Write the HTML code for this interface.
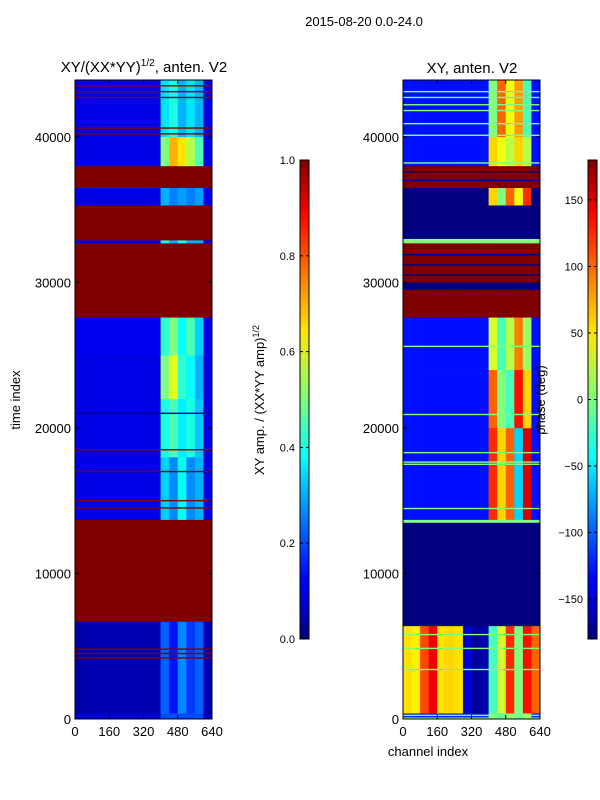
<!DOCTYPE html>
<html><head><meta charset="utf-8"><style>
body{margin:0;background:#fff;}
svg{display:block;font-family:"Liberation Sans",sans-serif;}
</style></head><body>
<svg id="fig" width="600" height="800" viewBox="0 0 600 800">
<defs>
<linearGradient id="jet" x1="0" y1="1" x2="0" y2="0">
<stop offset="0" stop-color="#00007f"/><stop offset="0.11" stop-color="#0000ff"/><stop offset="0.125" stop-color="#0000ff"/>
<stop offset="0.34" stop-color="#00d4ff"/><stop offset="0.375" stop-color="#00ffff" /><stop offset="0.5" stop-color="#7dff7a"/>
<stop offset="0.64" stop-color="#ffe600"/><stop offset="0.66" stop-color="#ffd400"/><stop offset="0.89" stop-color="#ff0000"/><stop offset="1" stop-color="#7f0000"/>
</linearGradient>
</defs>
<text x="364" y="26" font-size="13" text-anchor="middle">2015-08-20 0.0-24.0</text>
<g id="left"></g>
<g id="right"></g>
<text x="144" y="72" font-size="15" text-anchor="middle">XY/(XX*YY)<tspan font-size="10" dy="-6">1/2</tspan><tspan dy="6">, anten. V2</tspan></text>
<text x="472" y="73" font-size="15" text-anchor="middle">XY, anten. V2</text>
<text transform="translate(20,400) rotate(-90)" font-size="13" text-anchor="middle">time index</text>
<text x="428" y="756" font-size="13" text-anchor="middle">channel index</text>
<text transform="translate(264,400) rotate(-90)" font-size="13" text-anchor="middle">XY amp. / (XX*YY amp)<tspan font-size="9" dy="-5">1/2</tspan></text>
<text transform="translate(545,400) rotate(-90)" font-size="13" text-anchor="middle">phase (deg)</text>
<g id="cb1"></g>
<g id="cb2"></g>
</svg>
<script>
// ---------- data ----------
var tMax = 43900;
var xTicks = [0,160,320,480,640];
var yTicks = [0,10000,20000,30000,40000];
var ampTicks = [0.0,0.2,0.4,0.6,0.8,1.0];
var phaseTicks = [-150,-100,-50,0,50,100,150];
// channel bins: 16 bins of 40 channels
var ampRows = [
 [0,400,[0.08,0.08,0.08,0.08,0.08,0.08,0.08,0.08,0.08,0.08,0.2,0.2,0.2,0.2,0.2,0.05]],
 [400,6700,[0.04,0.04,0.05,0.05,0.05,0.05,0.05,0.05,0.05,0.05,0.22,0.14,0.26,0.18,0.22,0.05]],
 [6700,13700,[1,1,1,1,1,1,1,1,1,1,1,1,1,1,1,1]],
 [13700,18000,[0.1,0.1,0.1,0.1,0.1,0.1,0.1,0.1,0.1,0.1,0.33,0.26,0.38,0.26,0.3,0.1]],
 [18000,22000,[0.1,0.1,0.1,0.1,0.1,0.1,0.1,0.1,0.1,0.1,0.4,0.45,0.36,0.4,0.32,0.1]],
 [22000,25000,[0.1,0.1,0.1,0.1,0.1,0.1,0.1,0.1,0.1,0.1,0.5,0.6,0.42,0.38,0.3,0.1]],
 [25000,27600,[0.11,0.11,0.11,0.11,0.11,0.11,0.11,0.11,0.11,0.11,0.42,0.5,0.38,0.45,0.33,0.1]],
 [27600,32700,[1,1,1,1,1,1,1,1,1,1,1,1,1,1,1,1]],
 [32700,32900,[0.1,0.1,0.1,0.1,0.1,0.1,0.1,0.1,0.1,0.1,0.4,0.3,0.4,0.3,0.3,0.1]],
 [32900,35300,[1,1,1,1,1,1,1,1,1,1,1,1,1,1,1,1]],
 [35300,36500,[0.1,0.1,0.1,0.1,0.1,0.1,0.1,0.1,0.1,0.1,0.3,0.25,0.28,0.25,0.28,0.1]],
 [36500,38000,[1,1,1,1,1,1,1,1,1,1,1,1,1,1,1,1]],
 [38000,40000,[0.1,0.1,0.1,0.1,0.1,0.1,0.1,0.1,0.1,0.1,0.5,0.7,0.65,0.55,0.45,0.1]],
 [40000,43900,[0.1,0.1,0.1,0.1,0.1,0.1,0.1,0.1,0.1,0.1,0.35,0.4,0.3,0.35,0.3,0.1]]
];
var ampLineTimes = [4200,4500,4800,14500,15000,17000,18500,21000,40200,40600,42700,43100,43500];
var ampLineValues = [1,1,1,1,1,1,1,0.02,1,1,1,1,1];
var phaseRows = [
 [0,400,[-130,-130,-130,-130,-130,-130,-130,-130,-130,-130,0,-20,10,-10,20,-130]],
 [400,6400,[55,50,110,140,55,60,55,-150,-170,-165,-20,30,120,0,130,100]],
 [6400,13500,[-180,-180,-180,-180,-180,-180,-180,-180,-180,-180,-180,-180,-180,-180,-180,-180]],
 [13500,13700,[0,0,0,0,0,0,0,0,0,0,0,0,0,0,0,0]],
 [13700,20000,[-130,-130,-130,-130,-130,-130,-130,-130,-130,-130,120,60,100,-60,150,-130]],
 [20000,24000,[-130,-130,-130,-130,-130,-130,-130,-130,-130,-130,100,0,-20,130,60,-130]],
 [24000,27600,[-130,-130,-130,-130,-130,-130,-130,-130,-130,-130,30,-20,20,90,10,-130]],
 [27600,29500,[180,180,180,180,180,180,180,180,180,180,180,180,180,180,180,180]],
 [29500,30000,[-180,-180,-180,-180,-180,-180,-180,-180,-180,-180,-180,-180,-180,-180,-180,-180]],
 [30000,32700,[180,180,180,180,180,180,180,180,180,180,180,180,180,180,180,180]],
 [32700,33000,[0,0,0,0,0,0,0,0,0,0,0,0,0,0,0,0]],
 [33000,35300,[-180,-180,-180,-180,-180,-180,-180,-180,-180,-180,-180,-180,-180,-180,-180,-180]],
 [35300,36500,[-180,-180,-180,-180,-180,-180,-180,-180,-180,-180,60,0,100,40,120,-180]],
 [36500,38000,[180,180,180,180,180,180,180,180,180,180,180,180,180,180,180,180]],
 [38000,40000,[-130,-130,-130,-130,-130,-130,-130,-130,-130,-130,60,40,20,60,20,-130]],
 [40000,43900,[-130,-130,-130,-130,-130,-130,-130,-130,-130,-130,0,100,40,80,-20,-130]]
];
var phaseLineTimes = [60,250,3400,4850,5800,14460,17500,17650,18300,20920,25600,30500,31200,31900,37000,37600,38200,40100,40900,41800,42200,42700,43100];
var phaseLineValues = [0,0,0,0,0,0,0,0,0,0,0,-180,-180,-180,-180,-180,0,0,0,0,0,0,0];

// ---------- helpers ----------
var NS="http://www.w3.org/2000/svg";
function jet(v){v=Math.max(0,Math.min(1,v));
 function c(x){return Math.round(255*Math.max(0,Math.min(1,x)));}
 return "rgb("+c(1.5-Math.abs(4*v-3))+","+c(1.5-Math.abs(4*v-2))+","+c(1.5-Math.abs(4*v-1))+")";}
function mk(tag,attrs,parent){var e=document.createElementNS(NS,tag);for(var k in attrs)e.setAttribute(k,attrs[k]);parent.appendChild(e);return e;}
var Y0=719, Y1=80;
function yScale(t){return Y0-(t/tMax)*(Y0-Y1);}

function panel(g,x0,rows,lineT,lineV,norm,name){
 var W=137;
 function xScale(ch){return x0+ch/640*W;}
 rows.forEach(function(r){
  r[2].forEach(function(v,i){
   var rc=mk("rect",{x:xScale(i*40),y:yScale(r[1]),width:xScale((i+1)*40)-xScale(i*40)+0.3,height:yScale(r[0])-yScale(r[1])+0.3,fill:jet(norm(v))},g);
   
   
  });
 });
 lineT.forEach(function(t,i){
  var ln=mk("rect",{x:x0,y:yScale(t)-0.7,width:W,height:1.4,fill:jet(norm(lineV[i]))},g);
  
  
 });
 var fr=mk("rect",{x:x0,y:Y1,width:W,height:Y0-Y1,fill:"none",stroke:"#000","stroke-width":1},g);
 
 
 xTicks.forEach(function(v){
  var x=xScale(v);
  mk("line",{x1:x,x2:x,y1:Y0,y2:Y0-4,stroke:"#000"},g);
  mk("line",{x1:x,x2:x,y1:Y1,y2:Y1+4,stroke:"#000"},g);
  var tx=mk("text",{x:x,y:Y0+17,"font-size":13,"text-anchor":"middle"},g);tx.textContent=v;
  
  
 });
 yTicks.forEach(function(v){
  var y=yScale(v);
  mk("line",{x1:x0,x2:x0+4,y1:y,y2:y,stroke:"#000"},g);
  mk("line",{x1:x0+W,x2:x0+W-4,y1:y,y2:y,stroke:"#000"},g);
  var tx=mk("text",{x:x0-4,y:y+5,"font-size":13,"text-anchor":"end"},g);tx.textContent=v;
  
  
 });
}
panel(document.getElementById("left"),75,ampRows,ampLineTimes,ampLineValues,function(v){return v;},"amp");
panel(document.getElementById("right"),403,phaseRows,phaseLineTimes,phaseLineValues,function(v){return (v+180)/360;},"phase");

function colorbar(g,x,ticks,lo,hi,fmt,name){
 var top=160,bot=639;
 var r=mk("rect",{x:x,y:top,width:9,height:bot-top,fill:"url(#jet)",stroke:"#000","stroke-width":1},g);
 
 
 ticks.forEach(function(v){
  var y=bot-(v-lo)/(hi-lo)*(bot-top);
  mk("line",{x1:x,x2:x+3,y1:y,y2:y,stroke:"#000"},g);
  mk("line",{x1:x+9,x2:x+6,y1:y,y2:y,stroke:"#000"},g);
  var tx=mk("text",{x:x-5,y:y+4,"font-size":11,"text-anchor":"end"},g);tx.textContent=fmt(v);
  
  
 });
}
colorbar(document.getElementById("cb1"),300,ampTicks,0,1,function(v){return v.toFixed(1);},"amp-colorbar");
colorbar(document.getElementById("cb2"),588,phaseTicks,-180,180,function(v){return v<0?"\u2212"+(-v):""+v;},"phase-colorbar");
</script>
</body></html>
